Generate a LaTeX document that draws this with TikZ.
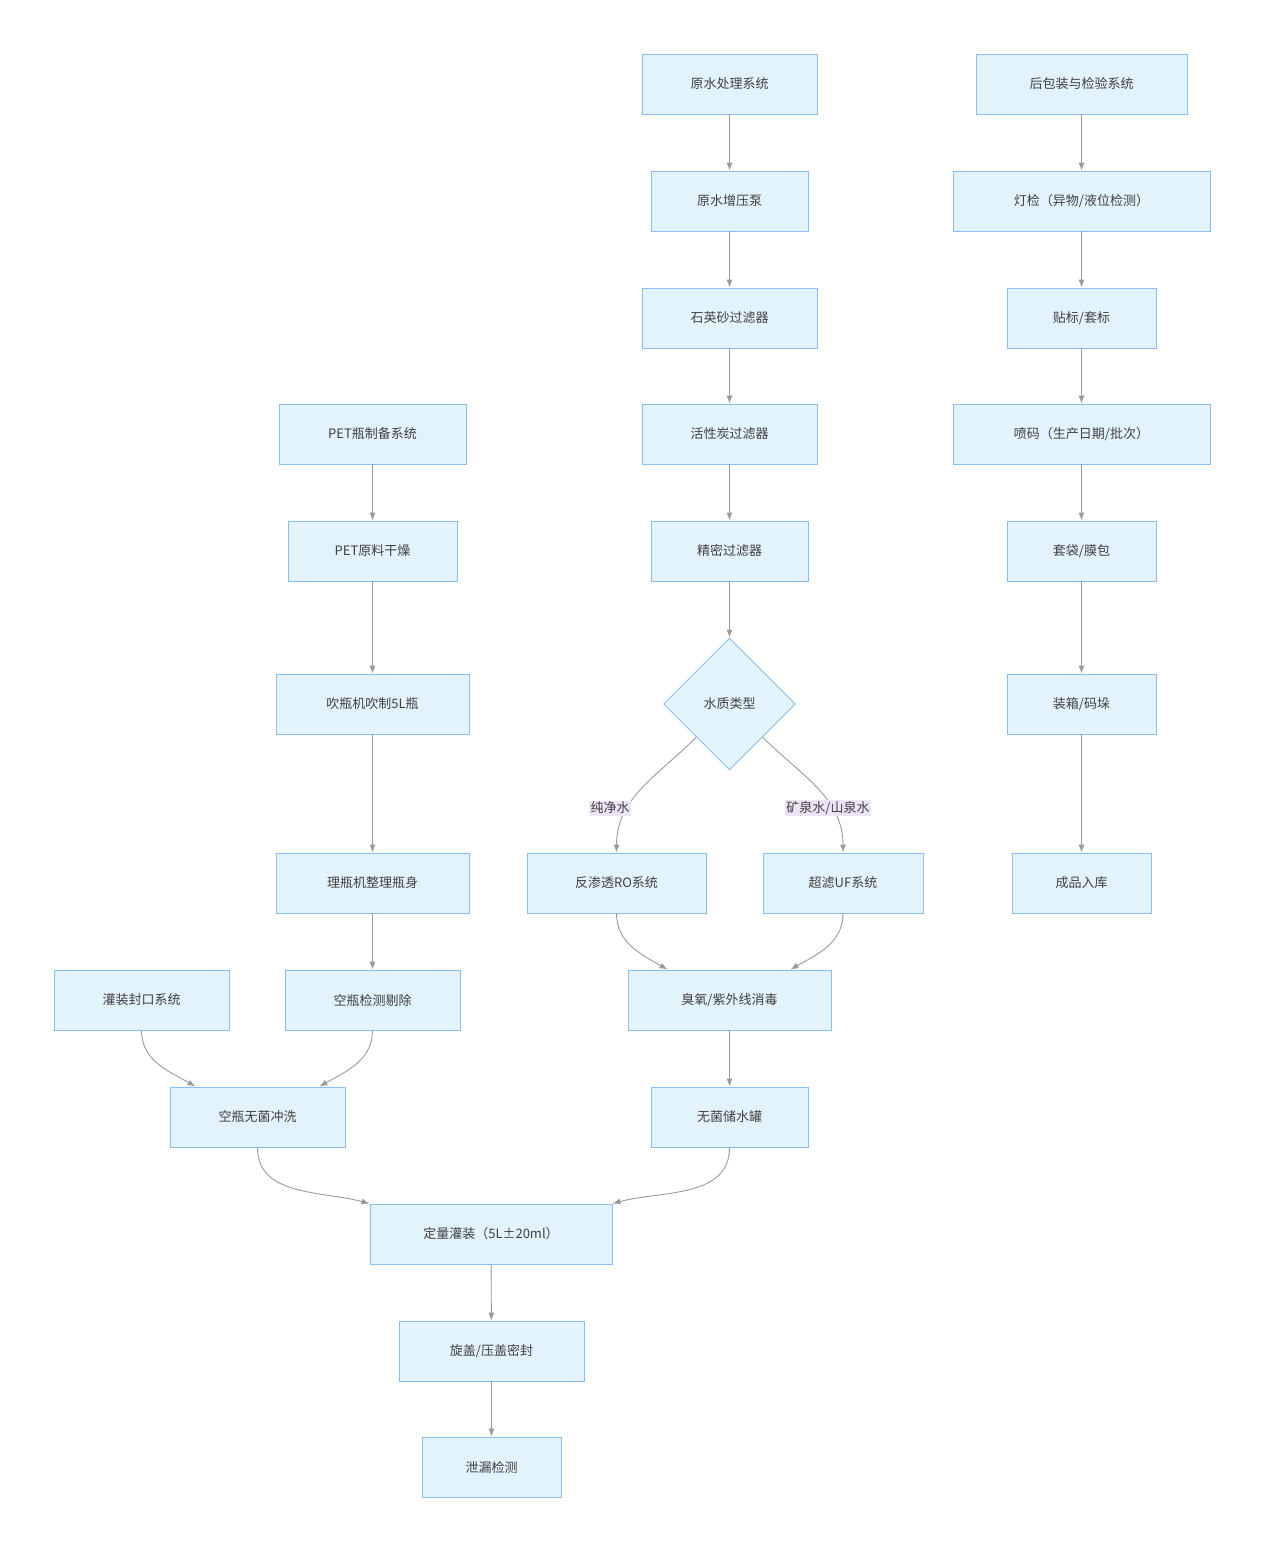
\documentclass[tikz,border=0pt]{standalone}
\usepackage{fontspec}
\setmainfont{Noto Sans CJK SC}
\usetikzlibrary{shapes.geometric,arrows.meta}
\definecolor{boxfill}{HTML}{E3F3FC}
\definecolor{boxline}{HTML}{8CBDF5}
\definecolor{edgegray}{HTML}{9A9A9A}
\definecolor{lblfill}{HTML}{EEE4F7}
\tikzset{
  box/.style={draw=boxline,fill=boxfill,line width=0.9pt,minimum height=60pt,
    inner sep=0pt,font=\fontsize{13}{15}\selectfont,text=black!75},
  dia/.style={box,diamond,aspect=1,minimum width=132pt,minimum height=132pt},
  edge/.style={draw=edgegray,line width=0.9pt,-{Latex[length=8pt,width=6pt]}},
  lbl/.style={fill=lblfill,inner sep=1.5pt,font=\fontsize{13}{15}\selectfont,text=black!75}
}
\begin{document}
\begin{tikzpicture}[x=1pt,y=-1pt]
\useasboundingbox (0,0) rectangle (1264,1552);
% water treatment
\node[box,minimum width=175pt] (raw) at (729.5,84) {原水处理系统};
\node[box,minimum width=157pt] (pump) at (729.5,201) {原水增压泵};
\node[box,minimum width=175pt] (sand) at (729.5,318) {石英砂过滤器};
\node[box,minimum width=175pt] (carbon) at (729.5,434) {活性炭过滤器};
\node[box,minimum width=157pt] (fine) at (729.5,551) {精密过滤器};
\node[dia] (kind) at (729.5,704) {水质类型};
\node[box,minimum width=179pt] (ro) at (616.5,883) {反渗透RO系统};
\node[box,minimum width=160pt] (uf) at (843,883) {超滤UF系统};
\node[box,minimum width=203pt] (ozone) at (729.5,1000) {臭氧/紫外线消毒};
\node[box,minimum width=157pt] (tank) at (729.5,1117) {无菌储水罐};
% packing
\node[box,minimum width=211pt] (pack) at (1081.5,84) {后包装与检验系统};
\node[box,minimum width=257pt] (light) at (1081.5,201) {灯检（异物/液位检测）};
\node[box,minimum width=149pt] (label) at (1081.5,318) {贴标/套标};
\node[box,minimum width=257pt] (code) at (1081.5,434) {喷码（生产日期/批次）};
\node[box,minimum width=149pt] (film) at (1081.5,551) {套袋/膜包};
\node[box,minimum width=149pt] (stack) at (1081.5,704) {装箱/码垛};
\node[box,minimum width=139pt] (store) at (1081.5,883) {成品入库};
% bottles
\node[box,minimum width=187pt] (pet) at (372.5,434) {PET瓶制备系统};
\node[box,minimum width=169pt] (dry) at (372.5,551) {PET原料干燥};
\node[box,minimum width=193pt] (blow) at (372.5,704) {吹瓶机吹制5L瓶};
\node[box,minimum width=193pt] (sort) at (372.5,883) {理瓶机整理瓶身};
\node[box,minimum width=175pt] (check) at (372.5,1000) {空瓶检测剔除};
\node[box,minimum width=175pt] (fill) at (141.5,1000) {灌装封口系统};
\node[box,minimum width=175pt] (rinse) at (257.5,1117) {空瓶无菌冲洗};
% filling line
\node[box,minimum width=242pt] (dose) at (491,1234) {定量灌装（5L±20ml）};
\node[box,minimum width=185pt] (cap) at (491.5,1351) {旋盖/压盖密封};
\node[box,minimum width=139pt] (leak) at (491.5,1467) {泄漏检测};

\draw[edge] (raw) -- (pump);
\draw[edge] (pump) -- (sand);
\draw[edge] (sand) -- (carbon);
\draw[edge] (carbon) -- (fine);
\draw[edge] (fine) -- (kind);
\draw[edge] (kind.south west) to[out=-135,in=90] (ro.north);
\draw[edge] (kind.south east) to[out=-45,in=90] (uf.north);
\node[lbl] (lpure) at (610,808) {纯净水};
\node[lbl] (lmin) at (828,808) {矿泉水/山泉水};
\draw[edge] (ro.south) to[out=-90,in=150] ([xshift=-62pt]ozone.north);
\draw[edge] (uf.south) to[out=-90,in=30] ([xshift=61pt]ozone.north);
\draw[edge] (ozone) -- (tank);

\draw[edge] (pack) -- (light);
\draw[edge] (light) -- (label);
\draw[edge] (label) -- (code);
\draw[edge] (code) -- (film);
\draw[edge] (film) -- (stack);
\draw[edge] (stack) -- (store);

\draw[edge] (pet) -- (dry);
\draw[edge] (dry) -- (blow);
\draw[edge] (blow) -- (sort);
\draw[edge] (sort) -- (check);
\draw[edge] (fill.south) to[out=-90,in=150] ([xshift=-62pt]rinse.north);
\draw[edge] (check.south) to[out=-90,in=30] ([xshift=62pt]rinse.north);
\draw[edge] (rinse.south) to[out=-90,in=165] (dose.north west);
\draw[edge] (tank.south) to[out=-90,in=15] (dose.north east);
\draw[edge] (dose) -- (cap);
\draw[edge] (cap) -- (leak);
\end{tikzpicture}
\end{document}
